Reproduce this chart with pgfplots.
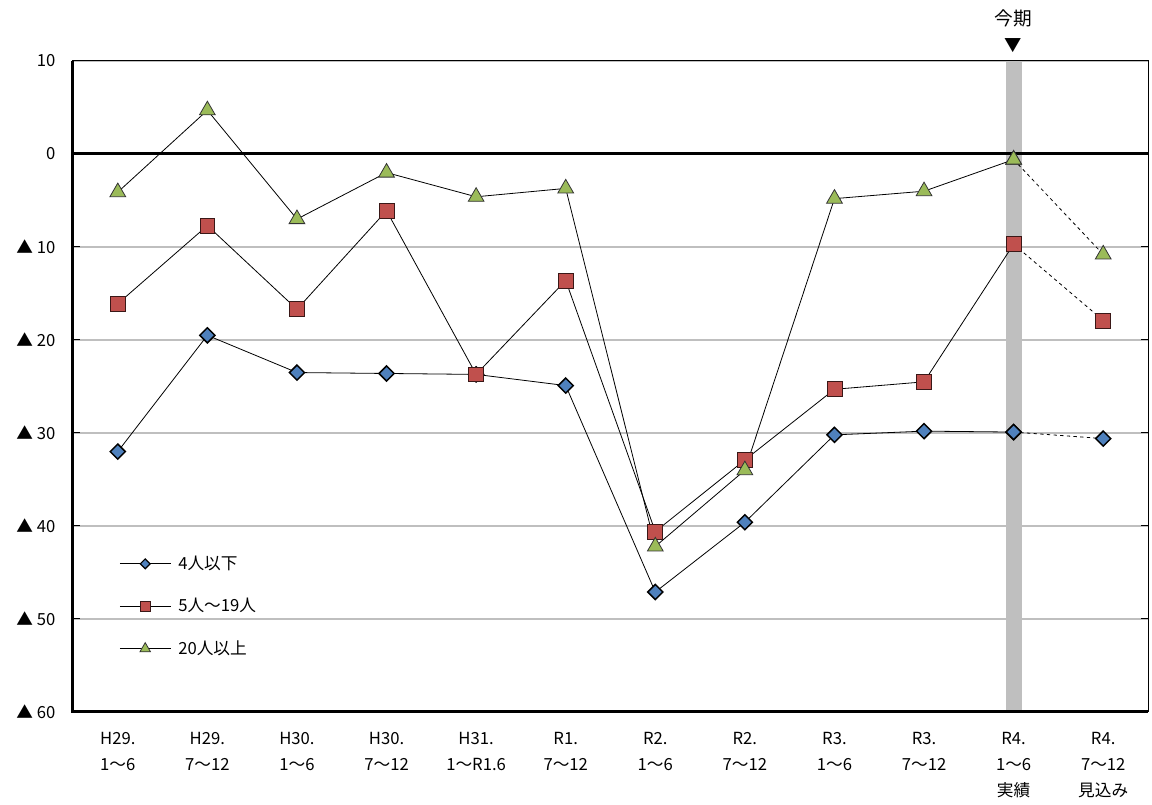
\documentclass[border=0pt]{standalone}
\usepackage{pgfplots}
\pgfplotsset{compat=1.18}
\usepackage{fontspec}
\setmainfont{Noto Sans CJK JP}
\definecolor{cblue}{HTML}{4F81BD}
\definecolor{cred}{HTML}{C0504D}
\definecolor{cgreen}{HTML}{9BBB59}
\definecolor{cbar}{HTML}{BFBFBF}
\definecolor{cgrid}{HTML}{BFBFBF}
\begin{document}
\begin{tikzpicture}
\useasboundingbox (-54.75pt,-69.75pt) rectangle (809.25pt,534pt);
\begin{axis}[
  at={(0,0)}, anchor=south west,
  scale only axis, width=806.25pt, height=488.25pt,
  xmin=-0.5, xmax=11.5, ymin=-60, ymax=10,
  clip=false,
  axis line style={black, line width=0.75pt},
  xtick={0,...,11},
  xticklabels={{H29.\\1〜6},{H29.\\7〜12},{H30.\\1〜6},{H30.\\7〜12},{H31.\\1〜R1.6},{R1.\\7〜12},{R2.\\1〜6},{R2.\\7〜12},{R3.\\1〜6},{R3.\\7〜12},{R4.\\1〜6\\実績},{R4.\\7〜12\\見込み}},
  x tick style={draw=none},
  xticklabel style={align=center, anchor=north, inner sep=0pt, yshift=-15pt, font=\fontsize{12.5}{19.5}\selectfont},
  ytick={-60,-50,...,10},
  yticklabels={▲ 60,▲ 50,▲ 40,▲ 30,▲ 20,▲ 10,0,10},
  yticklabel style={anchor=east, inner sep=0pt, xshift=-13pt, font=\fontsize{12.5}{15}\selectfont},
  y tick style={black, line width=0.75pt},
  major tick length=5pt,
  tick align=inside,
  ymajorgrids, grid style={cgrid, line width=0.8pt},
  /pgf/number format/assume math mode=true,
  legend cell align=left,
  legend style={at={(rel axis cs:0.043,0.243)}, anchor=north west, draw=none, fill=none,
    font=\fontsize{12.5}{15}\selectfont, row sep=17.2pt, inner sep=0pt, column sep=4pt,
    nodes={inner sep=1.5pt}},
  legend image code/.code={\draw[mark repeat=2,mark phase=2,#1] plot coordinates {(0pt,0pt) (19pt,0pt) (38pt,0pt)};},
]
% highlighted period bar
\fill[cbar] (axis cs:9.91,-60) rectangle (axis cs:10.09,10);
% zero line
\draw[black, line width=2.25pt] (axis cs:-0.5,0) -- (axis cs:11.5,0);

% dashed forecast segments
\addplot[forget plot, black, line width=0.6pt, dash pattern=on 2.5pt off 2.5pt,
  mark=square*, mark options={rotate=45, fill=cblue, draw=black, line width=1.1pt, solid}, mark size=4pt]
  coordinates {(10,-29.9) (11,-30.6)};
\addplot[forget plot, black, line width=0.6pt, dash pattern=on 2.5pt off 2.5pt,
  mark=square*, mark options={fill=cred, draw=black!70!cred, line width=0.6pt, solid}, mark size=5.6pt]
  coordinates {(10,-9.7) (11,-17.9)};
\addplot[forget plot, black, line width=0.6pt, dash pattern=on 2.5pt off 2.5pt,
  mark=triangle*, mark options={fill=cgreen, draw=black!80, line width=0.6pt, solid}, mark size=6.8pt]
  coordinates {(10,-0.6) (11,-10.8)};

% solid series
\addplot[forget plot, black, line width=0.6pt,
  mark=square*, mark options={rotate=45, fill=cblue, draw=black, line width=1.1pt}, mark size=4pt]
  coordinates {(0,-32.0) (1,-19.5) (2,-23.5) (3,-23.6) (4,-23.7) (5,-24.9) (6,-47.1) (7,-39.6) (8,-30.2) (9,-29.8) (10,-29.9)};
\addplot[forget plot, black, line width=0.6pt,
  mark=square*, mark options={fill=cred, draw=black!70!cred, line width=0.6pt}, mark size=5.6pt]
  coordinates {(0,-16.1) (1,-7.7) (2,-16.7) (3,-6.1) (4,-23.7) (5,-13.6) (6,-40.6) (7,-32.9) (8,-25.3) (9,-24.5) (10,-9.7)};
\addplot[forget plot, black, line width=0.6pt,
  mark=triangle*, mark options={fill=cgreen, draw=black!80, line width=0.6pt}, mark size=6.8pt]
  coordinates {(0,-4.1) (1,4.7) (2,-7.0) (3,-2.0) (4,-4.6) (5,-3.7) (6,-42.2) (7,-34.0) (8,-4.8) (9,-4.0) (10,-0.6)};

% legend
\addlegendimage{black, line width=0.6pt, mark=square*, mark options={rotate=45, fill=cblue, draw=black, line width=0.9pt}, mark size=2.6pt}
\addlegendentry{4人以下}
\addlegendimage{black, line width=0.6pt, mark=square*, mark options={fill=cred, draw=black!70!cred, line width=0.6pt}, mark size=3.8pt}
\addlegendentry{5人〜19人}
\addlegendimage{black, line width=0.6pt, mark=triangle*, mark options={fill=cgreen, draw=black!80, line width=0.6pt}, mark size=4.6pt}
\addlegendentry{20人以上}

% thick left and bottom axis lines
\draw[black, line width=2.25pt] (rel axis cs:0,1) -- (rel axis cs:0,0) -- (rel axis cs:1,0);

% current period marker
\node[font=\fontsize{13}{15}\selectfont, inner sep=0pt] at ([yshift=11.5pt]axis cs:10,10) {▼};
\node[font=\fontsize{14}{16}\selectfont, inner sep=0pt] at ([yshift=32pt]axis cs:10,10) {今期};
\end{axis}
\end{tikzpicture}
\end{document}
